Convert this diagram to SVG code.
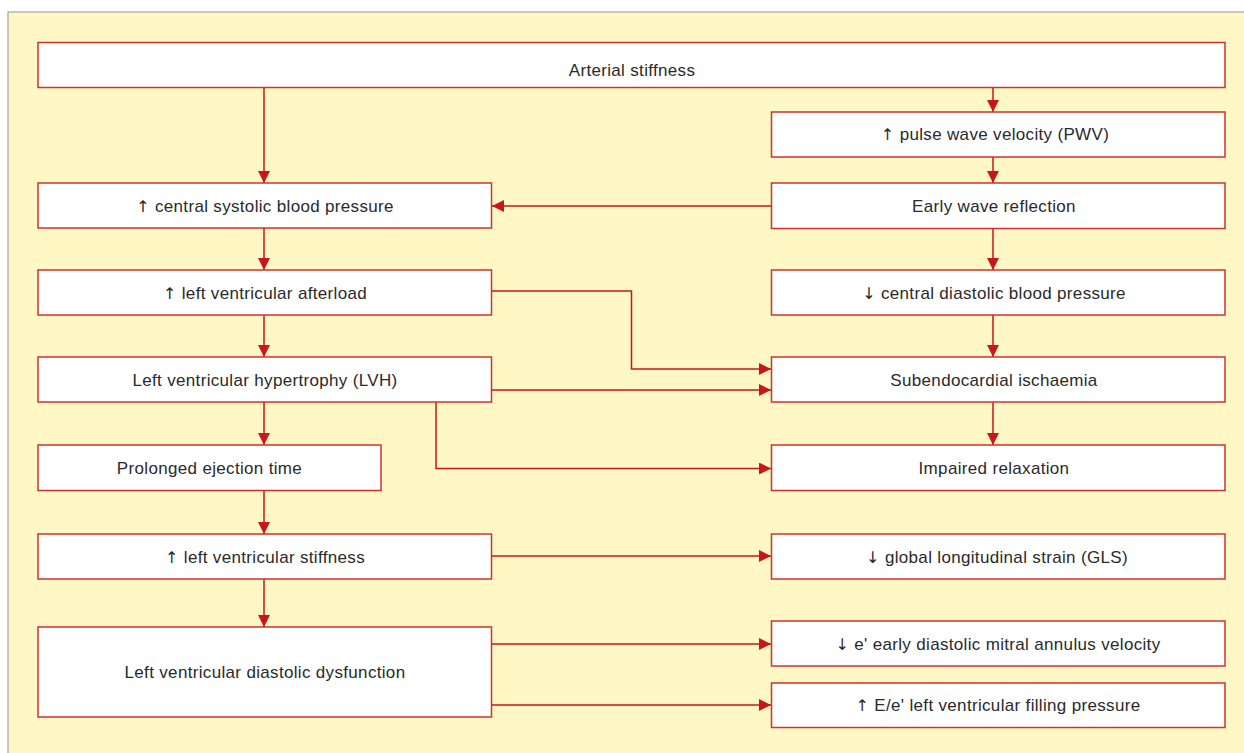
<svg xmlns="http://www.w3.org/2000/svg" width="1244" height="753" viewBox="0 0 1244 753">
<style>
.bx{fill:#ffffff;stroke:#d2302f;stroke-width:1.5}
.t{font-family:"Liberation Sans",Arial,sans-serif;font-size:17px;fill:#2a2a2a;text-anchor:middle;letter-spacing:0.33px}
.a{font-family:"DejaVu Sans",sans-serif;font-size:16px;fill:#2a2a2a}
.c{fill:none;stroke:#c8161e;stroke-width:1.5}
</style>
<defs>
<marker id="ah" viewBox="0 0 12 12" refX="12" refY="6" markerWidth="12" markerHeight="12" markerUnits="userSpaceOnUse" orient="auto">
<path d="M0,0 L12,6 L0,12 z" fill="#c8161e"/>
</marker>
</defs>
<rect x="0" y="0" width="1244" height="753" fill="#ffffff"/>
<rect x="8" y="12" width="1240" height="745" fill="#fff8c4" stroke="#a3a3a3" stroke-width="1.2"/>

<g id="connectors">
<path class="c" d="M264,88 V183" marker-end="url(#ah)"/>
<path class="c" d="M993,88 V112" marker-end="url(#ah)"/>
<path class="c" d="M993,157 V183" marker-end="url(#ah)"/>
<path class="c" d="M771,206 H492" marker-end="url(#ah)"/>
<path class="c" d="M264,228 V270" marker-end="url(#ah)"/>
<path class="c" d="M993,228 V270" marker-end="url(#ah)"/>
<path class="c" d="M492,291 H631.5 V369 H771" marker-end="url(#ah)"/>
<path class="c" d="M993,315 V357" marker-end="url(#ah)"/>
<path class="c" d="M264,315 V357" marker-end="url(#ah)"/>
<path class="c" d="M492,390 H771" marker-end="url(#ah)"/>
<path class="c" d="M436,402 V468.5 H771" marker-end="url(#ah)"/>
<path class="c" d="M993,402 V445" marker-end="url(#ah)"/>
<path class="c" d="M264,402 V445" marker-end="url(#ah)"/>
<path class="c" d="M264,490 V534" marker-end="url(#ah)"/>
<path class="c" d="M492,556 H771" marker-end="url(#ah)"/>
<path class="c" d="M264,579 V627" marker-end="url(#ah)"/>
<path class="c" d="M492,644 H771" marker-end="url(#ah)"/>
<path class="c" d="M492,705 H771" marker-end="url(#ah)"/>
</g>

<g id="n-arterial"><rect class="bx" x="38" y="42.5" width="1187" height="45"/><text class="t" x="632" y="75.5">Arterial stiffness</text></g>
<g id="n-pwv"><rect class="bx" x="771.5" y="112" width="453.5" height="45"/><text class="t" x="995" y="140"><tspan class="a">↑</tspan> pulse wave velocity (PWV)</text></g>
<g id="n-csbp"><rect class="bx" x="38" y="183" width="453.5" height="45"/><text class="t" x="265" y="211.5"><tspan class="a">↑</tspan> central systolic blood pressure</text></g>
<g id="n-early"><rect class="bx" x="771.5" y="183" width="453.5" height="45.5"/><text class="t" x="994" y="212">Early wave reflection</text></g>
<g id="n-afterload"><rect class="bx" x="38" y="270" width="453.5" height="45"/><text class="t" x="265" y="298.5"><tspan class="a">↑</tspan> left ventricular afterload</text></g>
<g id="n-cdbp"><rect class="bx" x="771.5" y="270" width="453.5" height="45"/><text class="t" x="994" y="298.5"><tspan class="a">↓</tspan> central diastolic blood pressure</text></g>
<g id="n-lvh"><rect class="bx" x="38" y="357" width="453.5" height="45"/><text class="t" x="265" y="385.5">Left ventricular hypertrophy (LVH)</text></g>
<g id="n-subendo"><rect class="bx" x="771.5" y="357" width="453.5" height="45"/><text class="t" x="994" y="385.5">Subendocardial ischaemia</text></g>
<g id="n-prolonged"><rect class="bx" x="38" y="445" width="343" height="45.5"/><text class="t" x="209.5" y="473.5">Prolonged ejection time</text></g>
<g id="n-impaired"><rect class="bx" x="771.5" y="445" width="453.5" height="45.5"/><text class="t" x="994" y="473.5">Impaired relaxation</text></g>
<g id="n-lvstiff"><rect class="bx" x="38" y="534" width="453.5" height="45"/><text class="t" x="265" y="562.5"><tspan class="a">↑</tspan> left ventricular stiffness</text></g>
<g id="n-gls"><rect class="bx" x="771.5" y="534" width="453.5" height="45"/><text class="t" x="997" y="562.5"><tspan class="a">↓</tspan> global longitudinal strain (GLS)</text></g>
<g id="n-lvdd"><rect class="bx" x="38" y="627" width="453.5" height="90"/><text class="t" x="265" y="677.5">Left ventricular diastolic dysfunction</text></g>
<g id="n-eprime"><rect class="bx" x="771.5" y="621" width="453.5" height="45"/><text class="t" x="998" y="649.5"><tspan class="a">↓</tspan> e' early diastolic mitral annulus velocity</text></g>
<g id="n-ee"><rect class="bx" x="771.5" y="683" width="453.5" height="44.5"/><text class="t" x="998" y="711"><tspan class="a">↑</tspan> E/e' left ventricular filling pressure</text></g>
</svg>
